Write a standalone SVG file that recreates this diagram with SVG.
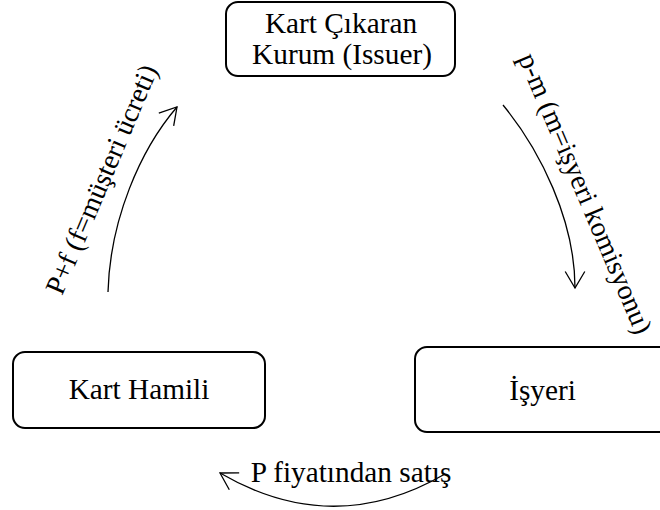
<svg xmlns="http://www.w3.org/2000/svg" width="660" height="510" viewBox="0 0 660 510">
<style>
.box{fill:#fff;stroke:#000;stroke-width:2}
.t{font-family:'Liberation Serif','Times New Roman',serif;font-size:29.3px;fill:#000;text-anchor:middle}
.r{font-size:28px}
.c{fill:none;stroke:#000;stroke-width:1.3}
</style>
<defs>
<marker id="ah" viewBox="-20 -12 22 24" markerWidth="22" markerHeight="24" refX="0" refY="0" orient="auto" markerUnits="userSpaceOnUse">
<path d="M-16.5,-9.8 L0,0 L-16.5,9.8" fill="none" stroke="#000" stroke-width="1.3"/>
</marker>
</defs>
<rect width="660" height="510" fill="#fff"/>
<g id="issuer">
<rect class="box" x="226" y="2" width="229" height="74" rx="12"/>
<text class="t" x="341" y="33">Kart Çıkaran</text>
<text class="t" x="342" y="64">Kurum (Issuer)</text>
</g>
<g id="kart-hamili">
<rect class="box" x="13" y="352" width="252" height="76" rx="12"/>
<text class="t" x="139" y="399">Kart Hamili</text>
</g>
<g id="isyeri">
<rect class="box" x="415" y="347" width="260" height="85" rx="12"/>
<text class="t" x="542.5" y="400">İşyeri</text>
</g>
<g id="connectors">
<path class="c" d="M108,292 C110,220 140,150 177,107" marker-end="url(#ah)"/>
<path class="c" d="M503,105 C540,150 575,220 575,288" marker-end="url(#ah)"/>
<path class="c" d="M445,474 Q333,539 220,473" marker-end="url(#ah)"/>
<text class="t r" x="110" y="183" transform="rotate(-67 110 183)">P+f (f=müşteri ücreti)</text>
<text class="t r" x="577" y="197" transform="rotate(67 577 197)">p-m (m=işyeri komisyonu)</text>
<text class="t" x="351" y="482">P fiyatından satış</text>
</g>
</svg>
